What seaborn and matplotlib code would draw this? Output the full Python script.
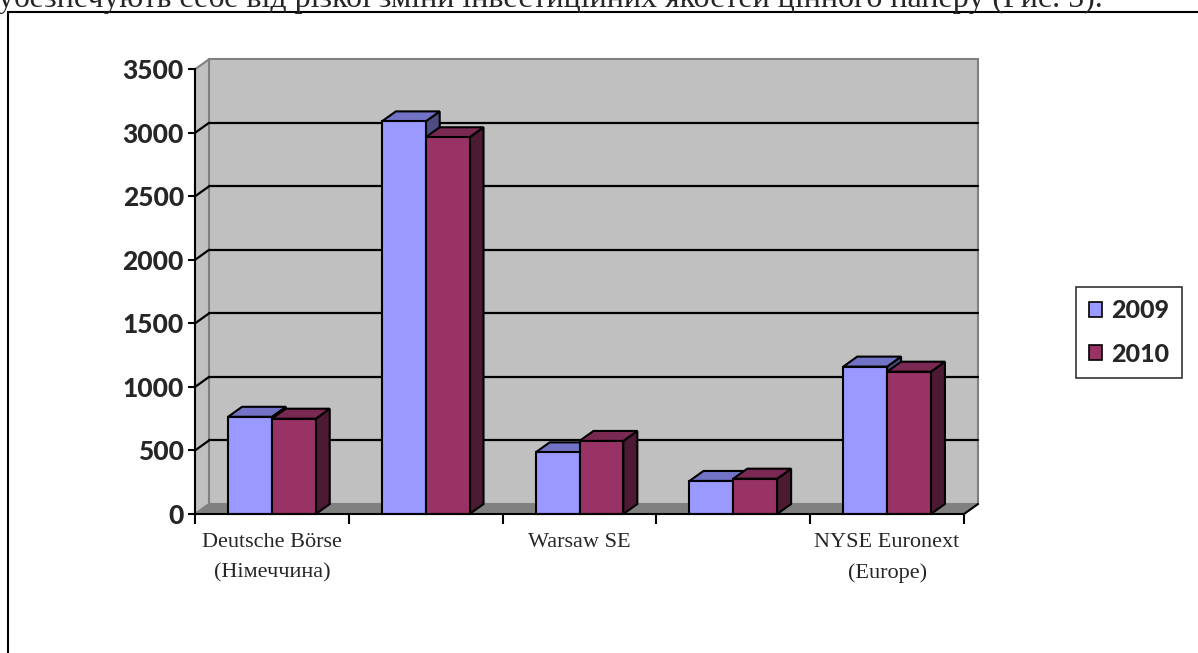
import numpy as np
import pandas as pd
import matplotlib
matplotlib.use("Agg")
import matplotlib.pyplot as plt
import seaborn as sns
from matplotlib.patches import Polygon, Patch
from matplotlib.lines import Line2D

# ---- data ----
categories = ["Deutsche Börse", "London SE", "Warsaw SE", "Athens SE", "NYSE Euronext (Europe)"]
tick_labels = ["Deutsche Börse\n(Німеччина)", "", "Warsaw SE", "", "NYSE Euronext\n(Europe)"]
years = ["2009", "2010"]
values_2009 = [765, 3090, 485, 260, 1160]
values_2010 = [750, 2965, 575, 278, 1120]
y_ticks = [0, 500, 1000, 1500, 2000, 2500, 3000, 3500]
top_text = "убезпечують себе від різкої зміни інвестиційних якостей цінного паперу (Рис. 5)."

front_colors = {"2009": "#9999FF", "2010": "#993366"}
top_colors = {"2009": "#7373C6", "2010": "#7A2952"}
side_colors = {"2009": "#4D4D80", "2010": "#4D1A33"}

sns.set_theme(style="white")
plt.rcParams['font.family'] = ['Lato', 'DejaVu Sans']

W, H = 1198, 653
fig = plt.figure(figsize=(W / 100, H / 100), dpi=100)
fig.patch.set_facecolor("white")
ax = fig.add_axes([195 / W, (H - 514) / H, 769 / W, 444.7 / H])
ax.set_facecolor("none")

df = pd.DataFrame({
    "exchange": categories * 2,
    "year": [years[0]] * len(categories) + [years[1]] * len(categories),
    "value": values_2009 + values_2010,
})
sns.barplot(data=df, x="exchange", y="value", hue="year", order=categories,
            hue_order=years, palette=front_colors, width=0.57, saturation=1,
            edgecolor="black", linewidth=1.5, ax=ax, legend=False)

ymax = y_ticks[-1]
ax.set_xlim(-0.5, len(categories) - 0.5)
ax.set_ylim(0, ymax)

# depth offset (pixels) converted to data units
p0 = ax.transData.transform((0, 0))
p1 = ax.transData.transform((1, 1000))
sx = p1[0] - p0[0]
sy = (p1[1] - p0[1]) / 1000.0
DX = 14 / sx
DY = 10 / sy
xl, xr = -0.5, len(categories) - 0.5

# walls and floor
back = Polygon([(xl + DX, DY), (xr + DX, DY), (xr + DX, ymax + DY), (xl + DX, ymax + DY)],
               closed=True, fc="#C0C0C0", ec="#808080", lw=1.5, zorder=0.1, clip_on=False)
left = Polygon([(xl, 0), (xl + DX, DY), (xl + DX, ymax + DY), (xl, ymax)],
               closed=True, fc="#C0C0C0", ec="#808080", lw=1.5, zorder=0.2, clip_on=False)
floor = Polygon([(xl, 0), (xr, 0), (xr + DX, DY), (xl + DX, DY)],
                closed=True, fc="#808080", ec="#808080", lw=1.0, zorder=0.4, clip_on=False)
for p in (back, left, floor):
    ax.add_patch(p)

for t in y_ticks[1:-1]:
    ax.add_line(Line2D([xl + DX, xr + DX], [t + DY, t + DY], color="black", lw=1.6,
                       zorder=0.3, clip_on=False))
    ax.add_line(Line2D([xl, xl + DX], [t, t + DY], color="black", lw=1.6,
                       zorder=0.3, clip_on=False))
ax.add_line(Line2D([xr, xr + DX], [0, DY], color="black", lw=1.5, zorder=0.5, clip_on=False))

# 3D faces on bars
for j, (cont, yr) in enumerate(zip(ax.containers, years)):
    for rect in cont:
        x0 = rect.get_x()
        w = rect.get_width()
        h = rect.get_height()
        base_z = 3 + j * 0.1
        top = Polygon([(x0, h), (x0 + w, h), (x0 + w + DX, h + DY), (x0 + DX, h + DY)],
                      closed=True, fc=top_colors[yr], ec="black", lw=1.5, zorder=base_z,
                      clip_on=False)
        side = Polygon([(x0 + w, 0), (x0 + w + DX, DY), (x0 + w + DX, h + DY), (x0 + w, h)],
                       closed=True, fc=side_colors[yr], ec="black", lw=1.5, zorder=base_z,
                       clip_on=False)
        ax.add_patch(side)
        ax.add_patch(top)
        rect.set_zorder(base_z + 0.01)
        rect.set_clip_on(False)

# axes styling
for s in ("top", "right"):
    ax.spines[s].set_visible(False)
for s in ("left", "bottom"):
    ax.spines[s].set_color("black")
    ax.spines[s].set_linewidth(1.5)
    ax.spines[s].set_zorder(5)

ax.set_yticks(y_ticks)
ax.set_yticklabels([str(v) for v in y_ticks])
ax.tick_params(axis="y", direction="out", length=5, width=1.5, color="black", pad=3,
               labelsize=19, left=True)
for lbl in ax.get_yticklabels():
    lbl.set_fontweight("black")

ax.set_xticks(range(len(categories)))
ax.set_xticklabels(tick_labels)
ax.set_xticks(np.arange(-0.5, len(categories), 1.0), minor=True)
ax.tick_params(axis="x", which="major", length=0, pad=14)
ax.tick_params(axis="x", which="minor", direction="out", length=7, width=1.5,
               color="black", bottom=True)
for lbl in ax.get_xticklabels():
    lbl.set_fontfamily("Liberation Serif")
    lbl.set_fontsize(16)
    lbl.set_linespacing(1.75)
ax.set_xlabel("")
ax.set_ylabel("")
ax.grid(False)

# legend
handles = [Patch(fc=front_colors[y], ec="black", lw=1.2) for y in years]
leg = fig.legend(handles, years, loc="upper left", bbox_to_anchor=(1076 / W, 1 - 287 / H),
                 frameon=True, fancybox=False, edgecolor="black",
                 prop={"family": "Lato", "weight": "black", "size": 18},
                 handlelength=0.55, handleheight=0.55, handletextpad=0.35,
                 borderpad=0.5, labelspacing=0.8, borderaxespad=0)
leg.get_frame().set_linewidth(1.2)

# page frame and cut-off text line
fig.add_artist(Line2D([8 / W, 8 / W], [0, 1 - 12 / H], transform=fig.transFigure,
                      color="black", lw=1.5))
fig.add_artist(Line2D([8 / W, 1], [1 - 12 / H, 1 - 12 / H], transform=fig.transFigure,
                      color="black", lw=1.5))
fig.text(-2 / W, 1 - 7 / H, top_text, family="Liberation Serif", fontsize=23,
         va="baseline", ha="left")

fig.savefig("out.png", dpi=100)
